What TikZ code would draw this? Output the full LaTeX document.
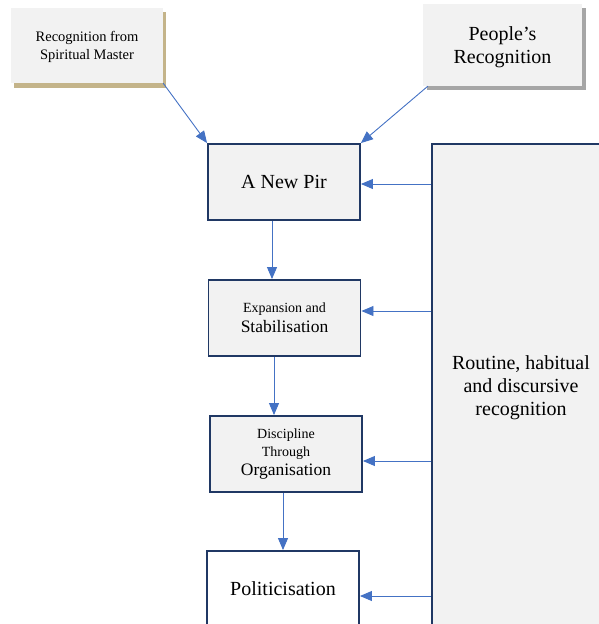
\documentclass[tikz,border=0pt]{standalone}
\usepackage{fontspec}
\setmainfont{Liberation Serif}
\usetikzlibrary{arrows.meta}
\definecolor{boxfill}{HTML}{F2F2F2}
\definecolor{navy}{HTML}{203864}
\definecolor{arrblue}{HTML}{4472C4}
\definecolor{tanshadow}{HTML}{C4B48A}
\definecolor{grayshadow}{HTML}{A6A6A6}
\tikzset{
  stagebox/.style={draw=navy, line width=1.9pt, fill=boxfill, minimum width=152pt, minimum height=76pt, align=center, inner sep=2pt},
  topbox/.style={fill=boxfill, inner sep=0pt},
  plaintext/.style={align=center, inner sep=0pt},
  arr/.style={draw=arrblue, line width=0.9pt, -{Triangle[length=12pt,width=10pt]}},
}
\begin{document}
\begin{tikzpicture}[x=1pt,y=-1pt]
\useasboundingbox (0,0) rectangle (599,624);
\clip (0,0) rectangle (599,624);
% shadows
\fill[tanshadow] (14,12) rectangle (166,88);
\fill[grayshadow] (427,8) rectangle (586,90);
% top boxes
\node[topbox, minimum width=152pt, minimum height=75pt] (b1) at (87,45.5) {};
\node[plaintext, font=\fontsize{14.5}{18}\selectfont] (b1t) at (87,47) {Recognition from\\Spiritual Master};
\node[topbox, minimum width=159pt, minimum height=82pt] (b2) at (502.5,45) {};
\node[plaintext, font=\fontsize{20}{23}\selectfont] (b2t) at (502.5,47.5) {People’s\\Recognition};
% stage boxes
\node[stagebox, font=\fontsize{20}{24}\selectfont] (pir) at (284,182) {A New Pir};
\node[stagebox, font=\fontsize{14}{20}\selectfont] (exp) at (284.5,318) {Expansion and\\\fontsize{17.5}{20}\selectfont Stabilisation};
\node[stagebox, font=\fontsize{14}{18.5}\selectfont] (dis) at (286,454) {Discipline\\Through\\\fontsize{17.5}{18.5}\selectfont Organisation};
\node[stagebox, fill=white, font=\fontsize{20}{24}\selectfont] (pol) at (283,589) {Politicisation};
% big box
\node[stagebox, minimum width=178pt, minimum height=488pt, font=\fontsize{20}{23}\selectfont] (big) at (521,388) {Routine, habitual\\and discursive\\recognition};
% arrows
\draw[arr] (b1.south east) -- (pir.north west);
\draw[arr] ([xshift=5pt]b2.south west) -- (pir.north east);
\draw[arr] (272,0 |- pir.south) -- (272,0 |- exp.north);
\draw[arr] (274,0 |- exp.south) -- (274,0 |- dis.north);
\draw[arr] (283,0 |- dis.south) -- (283,0 |- pol.north);
\draw[arr] (big.west |- 0,184) -- (pir.east |- 0,184);
\draw[arr] (big.west |- 0,311) -- (exp.east |- 0,311);
\draw[arr] (big.west |- 0,461) -- (dis.east |- 0,461);
\draw[arr] (big.west |- 0,596) -- (pol.east |- 0,596);
\end{tikzpicture}
\end{document}
